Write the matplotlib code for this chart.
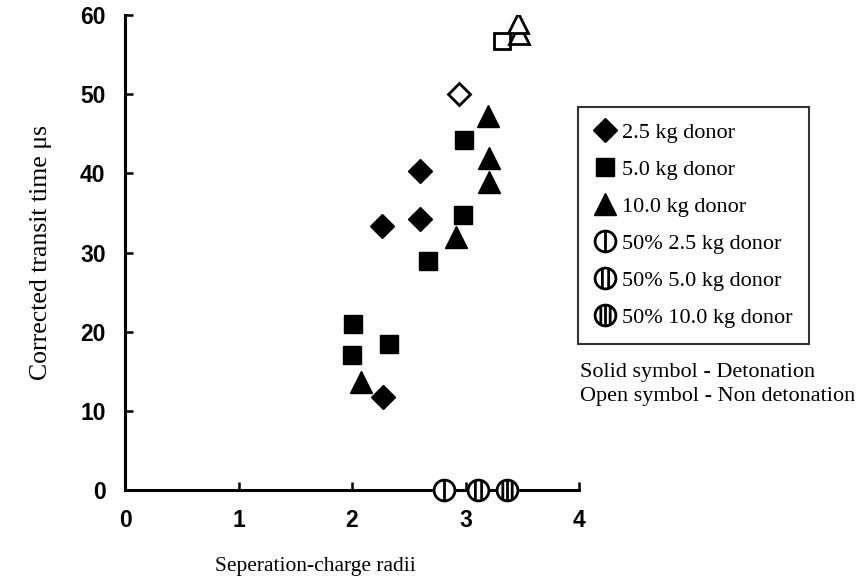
import numpy as np
import matplotlib
matplotlib.use("Agg")
import matplotlib.pyplot as plt
from matplotlib.path import Path
from matplotlib.lines import Line2D

# Detonation (solid symbols)
d25_x = [2.26, 2.60, 2.60, 2.27]
d25_y = [33.3, 40.3, 34.2, 11.8]
d50_x = [2.01, 2.00, 2.33, 2.67, 2.98, 2.99]
d50_y = [21.0, 17.0, 18.5, 28.9, 34.8, 44.2]
d100_x = [2.08, 2.92, 3.20, 3.21, 3.21]
d100_y = [13.7, 32.0, 47.3, 42.0, 38.9]

# Non detonation (open symbols)
o25_x = [2.94]
o25_y = [50.0]
o50_x = [3.32]
o50_y = [56.7]
o100_x = [3.46, 3.47]
o100_y = [59.0, 57.6]

# 50% charges
h25_x = [2.81]
h50_x = [3.11]
h100_x = [3.37]

labels = ["2.5 kg donor", "5.0 kg donor", "10.0 kg donor",
          "50% 2.5 kg donor", "50% 5.0 kg donor", "50% 10.0 kg donor"]

SERIF = "Liberation Serif"
SANS = "Liberation Sans"


def striped_circle(n):
    # circle marker with n vertical stripes
    parts = [Path.unit_circle()]
    if n == 1:
        xs = [0.0]
    elif n == 2:
        xs = [-0.3, 0.3]
    else:
        xs = [-0.45, 0.0, 0.45]
    for x in xs:
        h = np.sqrt(1 - x * x)
        parts.append(Path([(x, -h), (x, h)], [Path.MOVETO, Path.LINETO]))
    return Path.make_compound_path(*parts)


fig = plt.figure(figsize=(8.59, 5.81), dpi=100)
ax = fig.add_axes([125 / 859, 1 - 490 / 581, 454 / 859, 475 / 581])

ms_d, ms_s, ms_t, ms_c = 12.0, 12.5, 16.0, 15.0
ax.plot(d25_x, d25_y, ls="none", marker="D", ms=ms_d, color="black")
ax.plot(d50_x, d50_y, ls="none", marker="s", ms=ms_s, color="black")
ax.plot(d100_x, d100_y, ls="none", marker="^", ms=ms_t, color="black")
ax.plot(o25_x, o25_y, ls="none", marker="D", ms=ms_d - 1, mfc="white",
        mec="black", mew=2)
ax.plot(o50_x, o50_y, ls="none", marker="s", ms=ms_s - 1, mfc="white",
        mec="black", mew=2)
ax.plot(o100_x[::-1], o100_y[::-1], ls="none", marker="^", ms=ms_t - 1,
        mfc="white", mec="black", mew=2)

stripes = [striped_circle(1), striped_circle(2), striped_circle(3)]
for xs, mk in zip([h25_x, h50_x, h100_x], stripes):
    ax.plot(xs, [0] * len(xs), ls="none", marker=mk, ms=ms_c, mfc="white",
            mec="black", mew=2, clip_on=False, zorder=5)

ax.set_xlim(0, 4)
ax.set_ylim(0, 60)
ax.set_xticks([0, 1, 2, 3, 4])
ax.set_yticks([0, 10, 20, 30, 40, 50, 60])
for side in ["top", "right"]:
    ax.spines[side].set_visible(False)
for side in ["left", "bottom"]:
    ax.spines[side].set_linewidth(2.2)
ax.tick_params(direction="in", length=6, width=1.8, labelsize=16.5)
ax.tick_params(axis="y", pad=14)
ax.tick_params(axis="x", pad=14)
for lab in ax.get_xticklabels() + ax.get_yticklabels():
    lab.set_fontfamily(SANS)
    lab.set_fontweight("bold")

ax.set_ylabel("Corrected transit time \u03bcs", fontfamily=SERIF,
              fontsize=18.5, labelpad=20)
ax.set_xlabel("Seperation-charge radii", fontfamily=SERIF, fontsize=15.5)
ax.xaxis.set_label_coords(0.42, -0.142)

handles = [
    Line2D([], [], ls="none", marker="D", ms=ms_d, color="black"),
    Line2D([], [], ls="none", marker="s", ms=ms_s, color="black"),
    Line2D([], [], ls="none", marker="^", ms=ms_t, color="black"),
]
for mk in stripes:
    handles.append(Line2D([], [], ls="none", marker=mk, ms=ms_c,
                          mfc="white", mec="black", mew=2))

leg = ax.legend(handles, labels, loc="upper left",
                bbox_to_anchor=(578 / 859, 1 - 107 / 581),
                bbox_transform=fig.transFigure, borderaxespad=0,
                frameon=True, fancybox=False, edgecolor="black",
                borderpad=0.7, handlelength=1.0, handletextpad=0.3,
                labelspacing=0.74, prop={"family": SERIF, "size": 16})
leg.get_frame().set_linewidth(1.5)

fig.text(580 / 859, 1 - 372 / 581, "Solid symbol - Detonation",
         fontfamily=SERIF, fontsize=16, va="center", ha="left")
fig.text(580 / 859, 1 - 396 / 581, "Open symbol - Non detonation",
         fontfamily=SERIF, fontsize=16, va="center", ha="left")

fig.savefig("out.png", dpi=100)
